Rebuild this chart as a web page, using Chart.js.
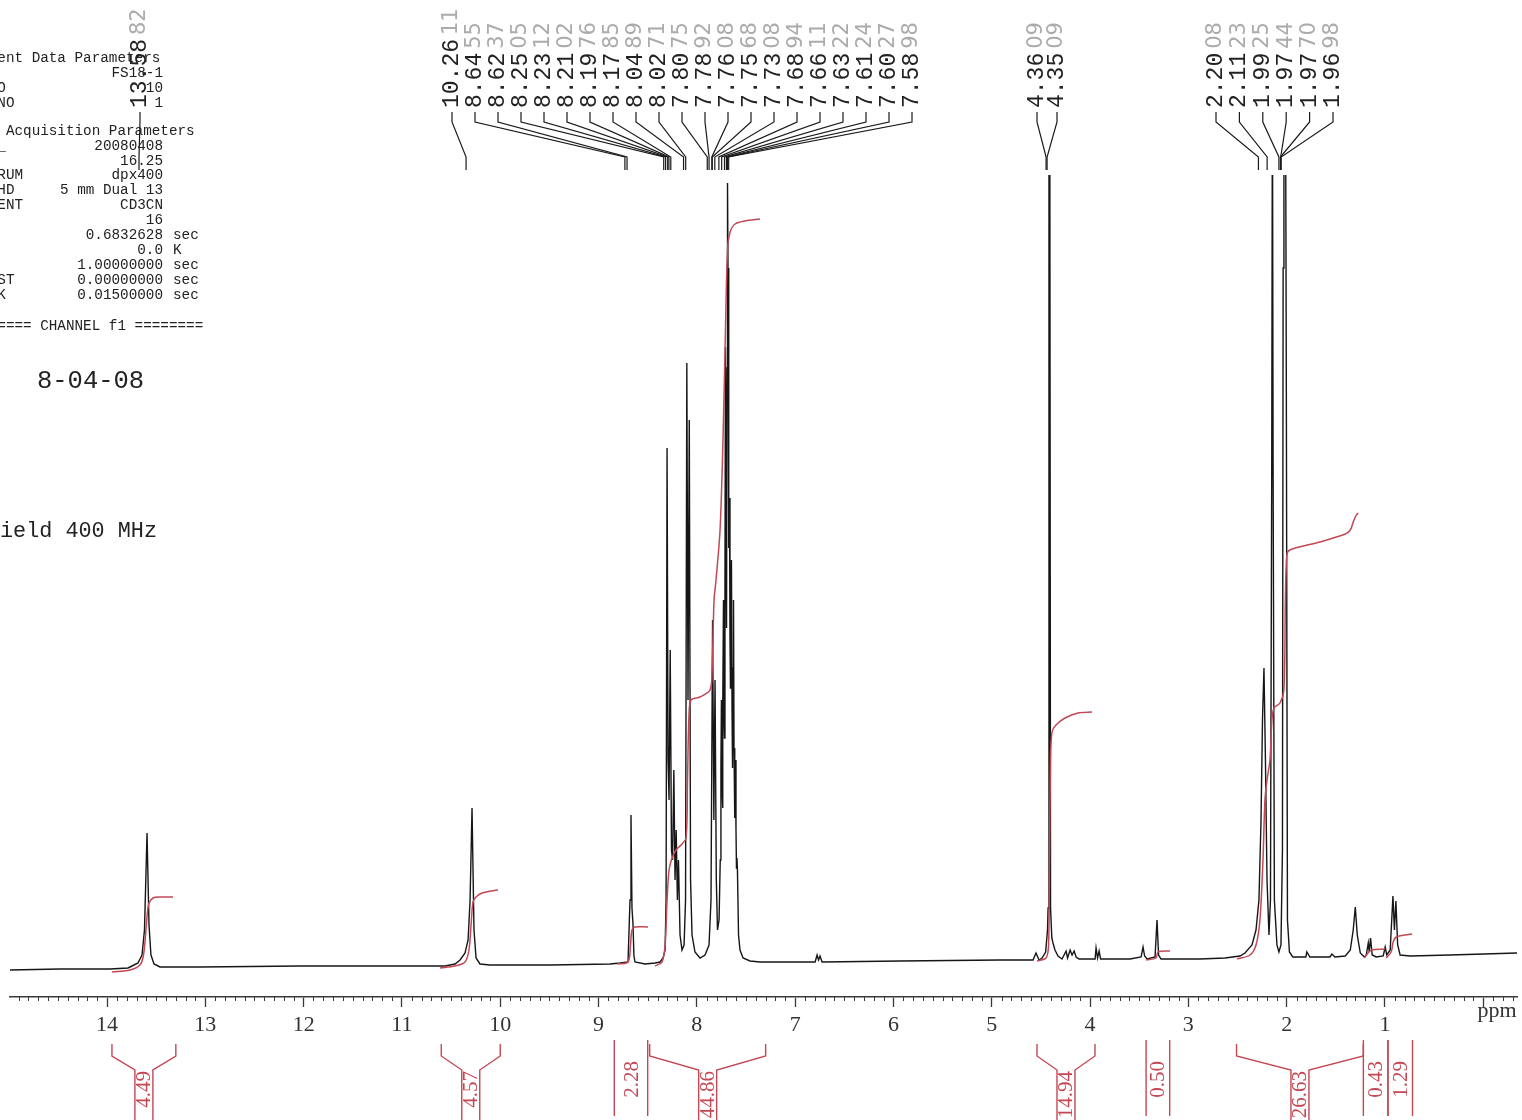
<!DOCTYPE html>
<html><head><meta charset="utf-8">
<script src="https://cdn.jsdelivr.net/npm/chart.js@4.4.1/dist/chart.umd.min.js"></script>
<style>html,body{margin:0;padding:0;background:#fff;}#wrap{width:1522px;height:1120px;position:relative;}</style>
</head><body><div id="wrap"><canvas id="c" width="1522" height="1120"></canvas></div>
<script>
// ---------- spectrum (ppm, intensity) ----------
const specPpm = [
 14.987,14.478,13.970,13.787,13.766,13.685,13.644,13.619,13.593,13.573,13.553,13.522,13.461,13.054,12.037,11.020,10.562,
 10.460,10.409,10.358,10.327,10.307,10.287,10.267,10.246,10.206,10.104,9.490,
 8.883,8.782,8.700,8.680,8.670,8.660,8.650,8.640,8.629,8.527,8.425,
 8.374,8.344,8.323,8.313,8.303,8.293,8.283,8.271,8.258,8.247,8.234,8.222,8.210,8.198,8.187,8.171,8.151,8.130,8.115,8.102,8.090,8.077,8.064,8.049,8.019,7.968,
 7.917,7.876,7.856,7.840,7.827,7.815,7.802,7.790,7.774,7.762,7.755,7.750,7.744,7.739,7.734,7.729,7.724,7.719,7.714,7.709,7.703,7.698,7.693,7.688,7.683,7.678,7.673,7.668,7.663,7.658,7.653,7.648,7.642,7.637,7.632,7.627,7.622,7.617,7.612,7.607,7.602,7.597,7.592,7.587,7.576,7.561,7.530,7.459,
 7.357,7.154,6.797,6.777,6.762,6.747,6.726,5.933,4.916,4.580,4.550,4.519,4.488,4.452,
 4.433,4.427,4.418,4.410,4.402,4.389,4.377,4.357,4.326,
 4.285,4.244,4.229,4.203,4.183,4.162,4.142,4.112,3.949,3.939,3.924,3.908,3.893,3.593,3.481,3.461,3.445,3.420,3.339,3.319,3.303,3.278,
 2.883,2.627,2.475,2.424,2.353,2.312,2.282,2.261,2.246,2.231,2.216,2.200,2.180,2.165,2.152,2.145,2.138,2.125,2.099,2.079,2.058,2.043,2.036,2.028,2.020,2.012,2.004,1.992,1.972,1.938,
 1.805,1.795,1.764,1.560,1.540,1.509,1.404,1.353,1.323,1.302,1.282,1.251,1.210,1.190,1.170,1.160,1.147,1.130,1.089,1.018,0.998,0.982,0.947,0.919,0.904,0.889,0.871,0.846,0.744,0.337,-0.343
];
const specInt = [
 -2,-1,-1,0,1,5,13,38,135,43,13,4,1,1,2,2,2,
 4,8,15,28,68,160,38,10,4,3,3,
 4,5,6,68,153,60,45,12,6,4,5,
 6,10,18,68,520,208,168,318,118,108,198,88,138,68,108,33,18,23,68,605,268,548,88,33,16,10,
 13,23,68,348,148,288,88,38,48,108,200,268,180,160,260,368,250,230,380,621,420,340,600,785,700,548,420,470,330,280,350,408,260,200,300,368,220,150,180,208,140,100,110,98,33,18,10,7,
 6,6,6,13,8,12,6,7,8,8,15,8,10,16,
 38,60,900,900,60,30,25,18,12,
 9,17,10,18,13,17,11,9,9,20,10,17,9,9,11,21,12,9,11,48,13,9,
 9,10,12,15,23,38,68,148,248,300,208,88,33,68,500,900,500,68,23,16,23,118,700,900,900,900,600,48,16,11,
 11,16,11,11,14,11,12,18,38,61,33,15,11,13,25,16,30,13,11,12,21,13,18,72,38,67,23,13,12,13,15
];

// ---------- integral curves ----------
const integ1Ppm = [13.949,13.766,13.665,13.629,13.604,13.589,13.573,13.532,13.461,13.329];
const integ1Val = [-4,-2,3,13,38,56,65,70,71,71];
const integ2Ppm = [10.613,10.460,10.358,10.318,10.297,10.277,10.246,10.185,10.023];
const integ2Val = [0,2,6,18,43,66,71,75,78];
const integ3Ppm = [8.812,8.700,8.675,8.660,8.629,8.497];
const integ3Val = [4,6,23,38,41,41];
const integ4Ppm = [8.425,8.354,8.323,8.303,8.283,8.252,8.212,8.161,8.110,8.095,8.080,8.059,7.968,7.866,7.845,7.825,7.805,7.764,7.734,7.709,7.688,7.662,7.611,7.509,7.357];
const integ4Val = [2,6,23,68,98,110,118,123,130,188,253,268,271,278,298,368,388,438,528,638,718,736,744,747,749];
const integ5Ppm = [4.539,4.448,4.422,4.412,4.402,4.387,4.347,4.255,4.123,3.980];
const integ5Val = [7,10,23,118,208,236,243,250,255,256];
const integ6Ppm = [3.431,3.329,3.309,3.187];
const integ6Val = [8,10,16,17];
const integ7Ppm = [2.505,2.373,2.312,2.272,2.241,2.221,2.200,2.170,2.150,2.129,2.068,2.028,2.013,1.998,1.968,1.663,1.404,1.353,1.323,1.292,1.272];
const integ7Val = [9,13,23,48,108,168,188,208,248,260,265,278,368,413,418,426,434,438,446,453,455];
const integ8Ppm = [1.210,1.180,1.139,0.998];
const integ8Val = [10,14,18,19];
const integ9Ppm = [0.988,0.937,0.917,0.886,0.724];
const integ9Val = [10,16,26,31,34];

// ---------- integration labels ----------
const integLabels = ['4.49','4.57','2.28','44.86','14.94','0.50','26.63','0.43','1.29'];
const integFrom   = [13.95,10.60,8.84,8.48,4.54,3.43,2.51,1.22,0.97];
const integTo     = [13.30,10.00,8.50,7.30,3.95,3.19,1.22,0.97,0.72];

// ---------- peak labels ----------
const peakPpmD = [13.5882];
const peakPpmA = [10.2611,8.6455,8.6237,8.2505,8.2312,8.2102,8.1976,8.1785,8.0489,8.0271,7.8075,7.7892,7.7608,7.7568,7.7308,7.6894,7.6611,7.6322,7.6124,7.6027,7.5898];
const peakPpmB = [4.3609,4.3509];
const peakPpmC = [2.2008,2.1123,1.9925,1.9744,1.9770,1.9698];

// ---------- parameter text ----------
const curNames  = ['Current Data Parameters','NAME','EXPNO','PROCNO'];
const curValues = ['','FS18-1','10','1'];
const acqNames  = ['F2 - Acquisition Parameters','Date_','Time','INSTRUM','PROBHD','SOLVENT','NS','AQ','TE','D1','MCREST','MCWRK'];
const acqValues = ['','20080408','16.25','dpx400','5 mm Dual 13','CD3CN','16','0.6832628','0.0','1.00000000','0.00000000','0.01500000'];
const acqUnits  = ['','','','','','','','sec','K','sec','sec','sec'];
const channelLine = '======== CHANNEL f1 ========';
const dateText = '8-04-08';
const fieldText = 'ield 400 MHz';

const MONO = '"Liberation Mono","DejaVu Sans Mono",monospace';
const SERIF = '"Liberation Serif","DejaVu Serif",serif';
const RED = 'rgb(196,72,84)';
const pts = (xs, ys) => xs.map((x, i) => ({x: x, y: ys[i]}));

function vtext(ctx, s, x, y, align, font, color) {
  ctx.save(); ctx.translate(x, y); ctx.rotate(-Math.PI / 2);
  ctx.font = font; ctx.fillStyle = color; ctx.textAlign = align; ctx.textBaseline = 'middle';
  ctx.fillText(s, 0, 0); ctx.restore();
}

const overlay = {
  id: 'overlay',
  afterDraw(chart) {
    const ctx = chart.ctx, xs = chart.scales.x, area = chart.chartArea;
    ctx.save();
    // minor ticks
    ctx.strokeStyle = '#3a3a3a'; ctx.lineWidth = 1;
    for (let k = Math.ceil(xs.min * 10); k <= Math.floor(xs.max * 10); k++) {
      if (k % 10 === 0) continue;
      const px = Math.round(xs.getPixelForValue(k / 10)) + 0.5;
      ctx.beginPath(); ctx.moveTo(px, area.bottom); ctx.lineTo(px, area.bottom + 4); ctx.stroke();
    }
    // ppm unit
    ctx.font = '22px ' + SERIF; ctx.fillStyle = '#333'; ctx.textAlign = 'center'; ctx.textBaseline = 'middle';
    ctx.fillText('ppm', 1497, 1011);

    // peak labels and leader lines
    const shift = -8.5;
    const groups = [
      {ppm: peakPpmD, x0: 140, dx: 0},
      {ppm: peakPpmA, x0: 452, dx: 23},
      {ppm: peakPpmB, x0: 1037, dx: 20},
      {ppm: peakPpmC, x0: 1216, dx: 23.4}
    ];
    groups.forEach(g => {
      g.ppm.forEach((p, i) => {
        const lx = g.x0 + i * g.dx;
        const tx = xs.getPixelForValue(p) + shift;
        ctx.strokeStyle = '#1a1a1a'; ctx.lineWidth = 1.2;
        ctx.beginPath(); ctx.moveTo(lx, 112); ctx.lineTo(lx, 122); ctx.lineTo(tx, 157); ctx.lineTo(tx, 170); ctx.stroke();
        const s = p.toFixed(4);
        const printed = s.slice(0, -2), hand = s.slice(-2);
        const f = '23px ' + MONO;
        vtext(ctx, printed, lx, 108, 'left', f, '#222');
        ctx.font = f; const w = ctx.measureText(printed).width;
        vtext(ctx, hand, lx, 108 - w - 4, 'left', '21px "DejaVu Sans",sans-serif', '#ababab');
      });
    });

    // integration brackets
    ctx.strokeStyle = RED; ctx.lineWidth = 1.4;
    integLabels.forEach((lab, i) => {
      const xa = xs.getPixelForValue(integFrom[i]), xb = xs.getPixelForValue(integTo[i]);
      const cx = (xa + xb) / 2, w = xb - xa;
      let anchor;
      ctx.beginPath();
      if (w > 45) {
        ctx.moveTo(xa, 1044); ctx.lineTo(xa, 1056); ctx.lineTo(cx - 9, 1070); ctx.lineTo(cx - 9, 1120);
        ctx.moveTo(xb, 1044); ctx.lineTo(xb, 1056); ctx.lineTo(cx + 9, 1070); ctx.lineTo(cx + 9, 1120);
        anchor = 1071;
      } else {
        ctx.moveTo(xa, 1040); ctx.lineTo(xa, 1116);
        ctx.moveTo(xb, 1040); ctx.lineTo(xb, 1116);
        anchor = 1061;
      }
      ctx.stroke();
      vtext(ctx, lab, cx + 1, anchor, 'right', '21px ' + SERIF, RED);
    });

    // parameter block
    ctx.font = '14.3px ' + MONO; ctx.fillStyle = '#222'; ctx.textBaseline = 'middle';
    const nx = -37, vx = 163, ux = 173;
    curNames.forEach((n, i) => {
      const y = 58 + i * 15;
      ctx.textAlign = 'left'; ctx.fillText(n, nx, y);
      if (curValues[i]) { ctx.textAlign = 'right'; ctx.fillText(curValues[i], vx, y); }
    });
    acqNames.forEach((n, i) => {
      const y = 131 + i * 14.9;
      ctx.textAlign = 'left'; ctx.fillText(n, nx, y);
      if (acqValues[i]) { ctx.textAlign = 'right'; ctx.fillText(acqValues[i], vx, y); }
      if (acqUnits[i]) { ctx.textAlign = 'left'; ctx.fillText(acqUnits[i], ux, y); }
    });
    ctx.textAlign = 'left'; ctx.fillText(channelLine, nx, 326);
    ctx.font = '25.5px ' + MONO; ctx.fillText(dateText, 37, 381);
    ctx.font = '21.8px ' + MONO; ctx.fillText(fieldText, 0, 531);
    ctx.restore();
  }
};

const integDs = [
  [integ1Ppm, integ1Val],[integ2Ppm, integ2Val],[integ3Ppm, integ3Val],[integ4Ppm, integ4Val],[integ5Ppm, integ5Val],
  [integ6Ppm, integ6Val],[integ7Ppm, integ7Val],[integ8Ppm, integ8Val],[integ9Ppm, integ9Val]
].map(([a, b]) => ({data: pts(a, b), borderColor: RED, borderWidth: 1.5, pointRadius: 0, tension: 0.3, fill: false}));

new Chart(document.getElementById('c'), {
  type: 'line',
  data: {datasets: [
    ...integDs,
    {data: pts(specPpm, specInt), borderColor: '#161616', borderWidth: 1.4, pointRadius: 0, tension: 0, fill: false}
  ]},
  options: {
    responsive: false, animation: false, devicePixelRatio: 1,
    layout: {padding: {left: 10, right: 5, top: 175, bottom: 83}},
    plugins: {legend: {display: false}, tooltip: {enabled: false}},
    scales: {
      x: {
        type: 'linear', reverse: true, min: -0.343, max: 14.987,
        grid: {drawOnChartArea: false, drawTicks: true, tickLength: 10, tickColor: '#3a3a3a', tickWidth: 1.3},
        border: {display: true, color: '#3a3a3a', width: 1.6},
        ticks: {stepSize: 1, includeBounds: false, autoSkip: false, maxRotation: 0, padding: 5, color: '#333',
                font: {family: SERIF, size: 22}, callback: (v) => v === 0 ? '' : String(v)},
        afterFit: (s) => { s.height = 40; }
      },
      y: {display: false, min: -29, max: 793}
    }
  },
  plugins: [overlay]
});
</script></body></html>
